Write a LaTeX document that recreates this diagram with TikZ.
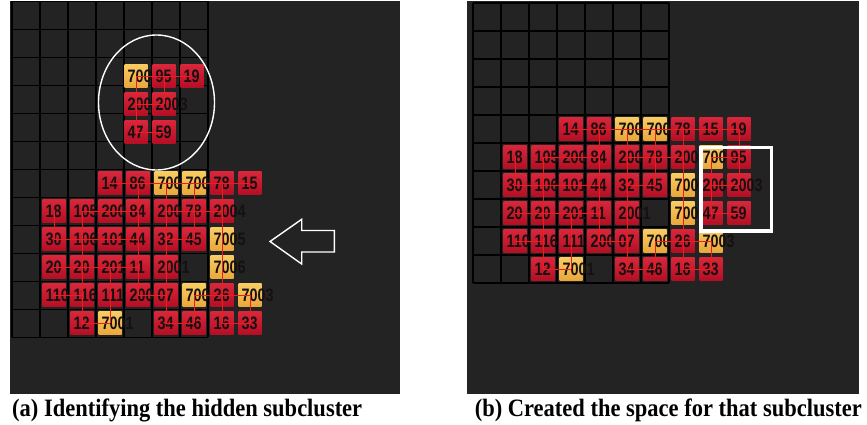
\documentclass[tikz,border=0pt]{standalone}
\usepackage{fontspec}
\newfontfamily\tilefont[FakeStretch=0.8]{Liberation Sans}
\newfontfamily\capfont[FakeStretch=0.9]{Liberation Serif}
\definecolor{panelbg}{HTML}{232323}
\definecolor{tredhi}{HTML}{D8263A}
\definecolor{tredlo}{HTML}{B40E24}
\definecolor{tyelhi}{HTML}{F8CC62}
\definecolor{tyello}{HTML}{E9A63A}
\definecolor{linkred}{HTML}{EE1C1C}
\definecolor{digit}{HTML}{161010}
\tikzset{
  tilebase/.style={rectangle, minimum width=23pt, minimum height=23pt, inner sep=0pt, outer sep=0pt},
  R/.style={tilebase, top color=tredhi, bottom color=tredlo},
  Y/.style={tilebase, top color=tyelhi, bottom color=tyello},
  tilelabel/.style={anchor=west, inner sep=0pt, text=digit, font=\tilefont\bfseries\fontsize{18}{18}\selectfont},
  gridline/.style={line width=1.3pt, draw=black},
  linkline/.style={draw=linkred, line width=0.9pt},
  caplabel/.style={inner sep=0pt, text=black, font=\capfont\bfseries\fontsize{25}{25}\selectfont},
  hilite/.style={draw=white, line width=1.4pt}
}
\begin{document}
\begin{tikzpicture}[x=1pt,y=-1pt]
\useasboundingbox[fill=white] (0,0) rectangle (867,425);
% panels
\fill[panelbg] (10,1) rectangle (400,394);
\fill[panelbg] (467,1) rectangle (859,394);
% left grid
\foreach \i in {0,...,7} \draw[gridline] ({12+28*\i},1.3) -- ({12+28*\i},337.3);
\foreach \j in {0,...,12} \draw[gridline] (12,{1.3+28*\j}) -- (208,{1.3+28*\j});
% right grid
\foreach \i in {0,...,7} \draw[gridline] ({473+28*\i},3) -- ({473+28*\i},283);
\foreach \j in {0,...,10} \draw[gridline] (473,{3+28*\j}) -- (669,{3+28*\j});
% ---------- left panel tiles ----------
% hidden subcluster (slightly displaced)
\foreach \r/\c/\t/\l in {2/4/Y/7004, 2/5/R/95, 2/6/R/19, 3/4/R/2002, 3/5/R/2003, 4/4/R/47, 4/5/R/59}{
  \node[\t] (a-\r-\c) at ({12+28*\c+12},{1.3+28*\r+19}) {};
  \node[tilelabel] (a-\r-\c-t) at ([xshift=3pt]a-\r-\c.west) {\l};
}
% main cluster
\foreach \r/\c/\t/\l in {
  6/3/R/14, 6/4/R/86, 6/5/Y/7008, 6/6/Y/7007, 6/7/R/78, 6/8/R/15,
  7/1/R/18, 7/2/R/105, 7/3/R/2005, 7/4/R/84, 7/5/R/2006, 7/6/R/78, 7/7/R/2004,
  8/1/R/30, 8/2/R/106, 8/3/R/101, 8/4/R/44, 8/5/R/32, 8/6/R/45, 8/7/Y/7005,
  9/1/R/20, 9/2/R/20, 9/3/R/2013, 9/4/R/11, 9/5/R/2001, 9/7/Y/7006,
  10/1/R/110, 10/2/R/116, 10/3/R/111, 10/4/R/2007, 10/5/R/07, 10/6/Y/7002, 10/7/R/26, 10/8/Y/7003,
  11/2/R/12, 11/3/Y/7001, 11/5/R/34, 11/6/R/46, 11/7/R/16, 11/8/R/33}{
  \node[\t] (a-\r-\c) at ({12+28*\c+14},{1.3+28*\r+14}) {};
  \node[tilelabel] (a-\r-\c-t) at ([xshift=3pt]a-\r-\c.west) {\l};
}
% left links
\foreach \p/\q in {2-4/2-5, 2-5/2-6, 2-4/3-4, 3-4/4-4, 2-5/3-5, 4-4/4-5, 3-4/3-5,
  6-3/6-4, 6-4/6-5, 6-5/6-6, 6-6/6-7, 6-7/6-8,
  7-2/7-3, 7-3/7-4, 7-5/7-6, 7-6/7-7,
  8-1/8-2, 8-2/8-3, 8-3/8-4, 8-5/8-6,
  9-1/9-2, 9-2/9-3, 9-3/9-4,
  10-1/10-2, 10-4/10-5, 10-6/10-7, 10-7/10-8,
  11-2/11-3, 11-5/11-6, 11-7/11-8,
  7-1/8-1, 7-2/8-2, 8-2/9-2, 9-2/10-2, 10-2/11-2,
  9-3/10-3, 10-3/11-3,
  6-4/7-4, 7-4/8-4, 8-4/9-4, 9-4/10-4,
  6-5/7-5, 7-5/8-5, 8-5/9-5, 9-5/10-5, 10-5/11-5,
  6-6/7-6, 7-6/8-6, 10-6/11-6,
  6-7/7-7, 7-7/8-7, 8-7/9-7, 9-7/10-7, 10-7/11-7,
  10-8/11-8}
  \draw[linkline] (a-\p.center) -- (a-\q.center);
% ---------- right panel tiles ----------
\foreach \r/\c/\t/\l in {
  4/3/R/14, 4/4/R/86, 4/5/Y/7008, 4/6/Y/7007, 4/7/R/78, 4/8/R/15, 4/9/R/19,
  5/1/R/18, 5/2/R/105, 5/3/R/2005, 5/4/R/84, 5/5/R/2006, 5/6/R/78, 5/7/R/2004, 5/8/Y/7004, 5/9/R/95,
  6/1/R/30, 6/2/R/106, 6/3/R/101, 6/4/R/44, 6/5/R/32, 6/6/R/45, 6/7/Y/7005, 6/8/R/2002, 6/9/R/2003,
  7/1/R/20, 7/2/R/20, 7/3/R/2013, 7/4/R/11, 7/5/R/2001, 7/7/Y/7006, 7/8/R/47, 7/9/R/59,
  8/1/R/110, 8/2/R/116, 8/3/R/111, 8/4/R/2007, 8/5/R/07, 8/6/Y/7002, 8/7/R/26, 8/8/Y/7003,
  9/2/R/12, 9/3/Y/7001, 9/5/R/34, 9/6/R/46, 9/7/R/16, 9/8/R/33}{
  \node[\t] (b-\r-\c) at ({473+28*\c+14},{3+28*\r+14}) {};
  \node[tilelabel] (b-\r-\c-t) at ([xshift=3pt]b-\r-\c.west) {\l};
}
\foreach \p/\q in {4-8/4-9, 4-9/5-9, 5-8/5-9, 5-8/6-8, 6-8/7-8, 5-9/6-9, 7-8/7-9, 6-8/6-9,
  4-3/4-4, 4-4/4-5, 4-5/4-6, 4-6/4-7, 4-7/4-8,
  5-2/5-3, 5-3/5-4, 5-5/5-6, 5-6/5-7,
  6-1/6-2, 6-2/6-3, 6-3/6-4, 6-5/6-6,
  7-1/7-2, 7-2/7-3, 7-3/7-4,
  8-1/8-2, 8-4/8-5, 8-6/8-7, 8-7/8-8,
  9-2/9-3, 9-5/9-6, 9-7/9-8,
  5-1/6-1, 5-2/6-2, 6-2/7-2, 7-2/8-2, 8-2/9-2,
  7-3/8-3, 8-3/9-3,
  4-4/5-4, 5-4/6-4, 6-4/7-4, 7-4/8-4,
  4-5/5-5, 5-5/6-5, 6-5/7-5, 7-5/8-5, 8-5/9-5,
  4-6/5-6, 5-6/6-6, 8-6/9-6,
  4-7/5-7, 5-7/6-7, 6-7/7-7, 7-7/8-7, 8-7/9-7,
  8-8/9-8}
  \draw[linkline] (b-\p.center) -- (b-\q.center);
% highlight marks
\draw[hilite] (156.5,102.5) ellipse [x radius=58pt, y radius=67.5pt];
\draw[hilite, line join=miter] (270,241.5) -- (301.7,219.3) -- (301.7,230.5) -- (334.3,230.5)
  -- (334.3,252) -- (301.7,252) -- (301.7,264) -- cycle;
\draw[draw=white, line width=3.6pt] (701.2,147.5) rectangle (771.5,231);
% captions
\node[caplabel, anchor=base west] (capa) at (12,416) {(a) Identifying the hidden subcluster};
\node[caplabel, anchor=base east] (capb) at (862,416) {(b) Created the space for that subcluster};
\end{tikzpicture}
\end{document}
